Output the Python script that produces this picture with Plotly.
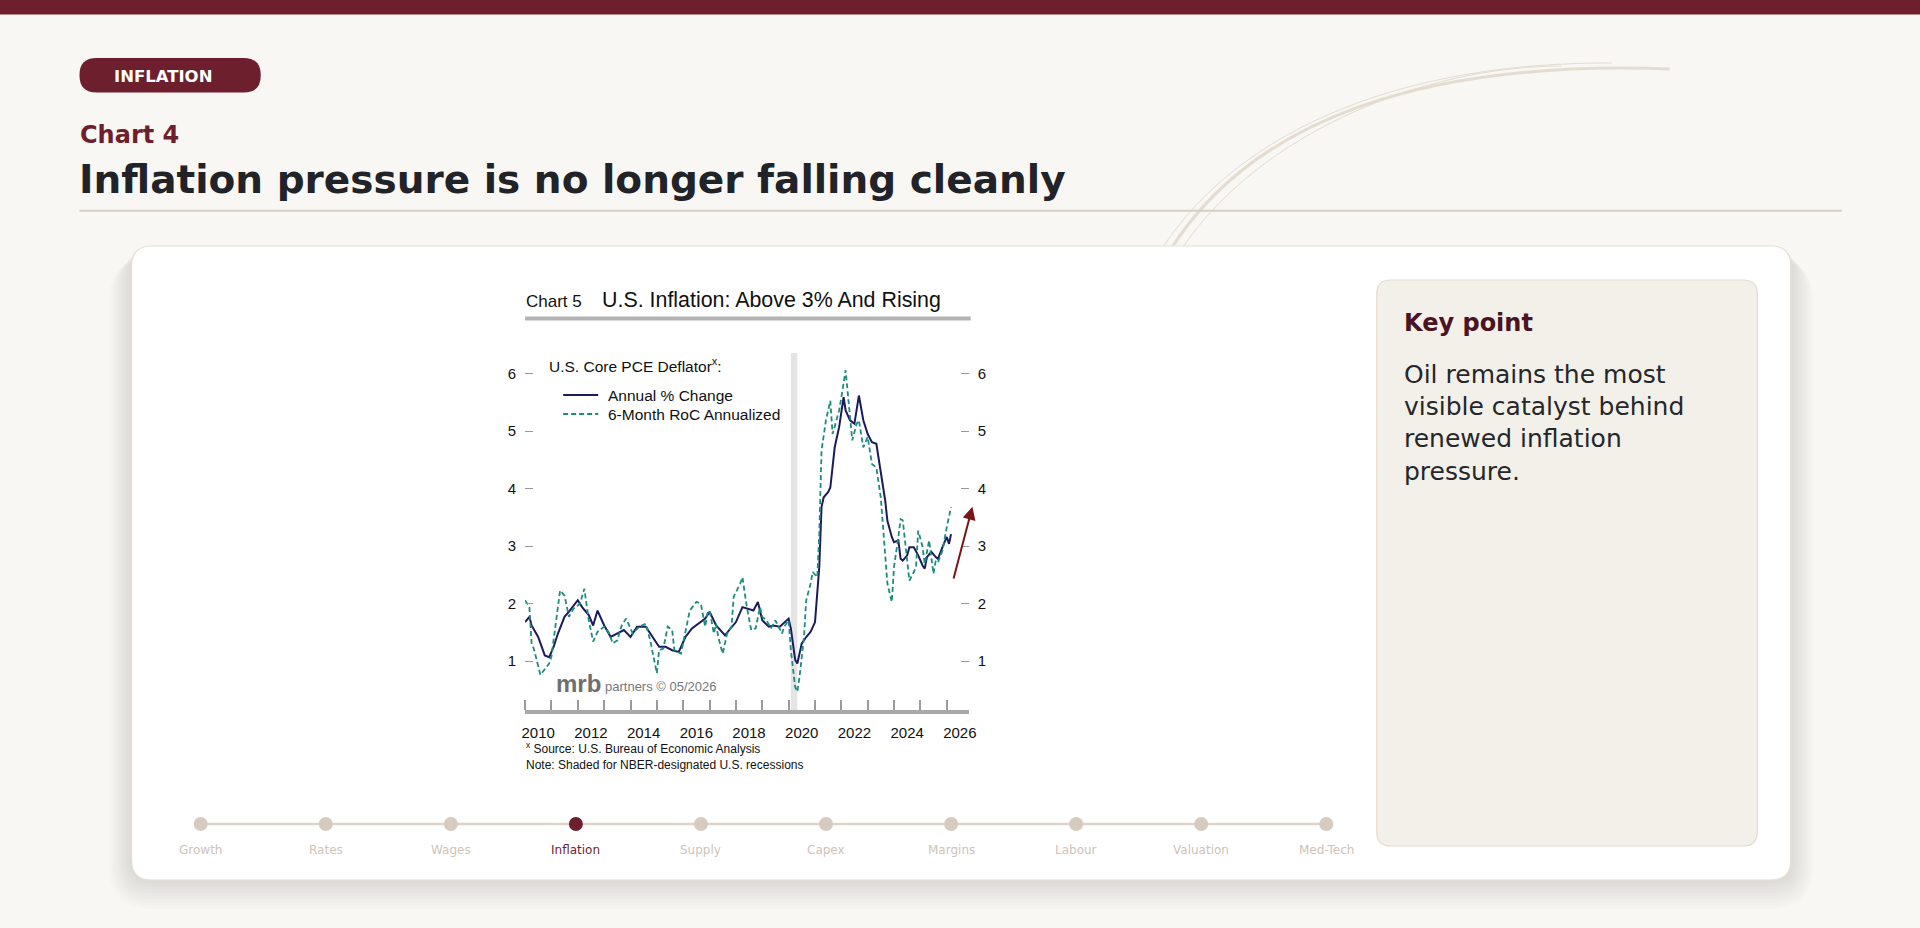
import plotly.graph_objects as go

W, H = 1920, 928
# measured horizontal placement of the page in the photographed window
X_OFF, X_SCALE = 4.6, 0.9924

# ---- data ----
annual_dates = [
    "2010-01", "2010-03", "2010-04", "2010-07", "2010-10", "2010-12", "2011-02", "2011-04",
    "2011-07", "2011-09", "2012-01", "2012-03", "2012-06", "2012-08", "2012-10", "2013-01",
    "2013-04", "2013-07", "2013-10", "2014-01", "2014-04", "2014-08", "2014-11", "2015-02",
    "2015-05", "2015-08", "2015-11", "2016-02", "2016-05", "2016-08", "2016-11", "2017-01",
    "2017-04", "2017-08", "2017-11", "2018-01", "2018-04", "2018-07", "2018-09", "2018-11",
    "2019-01", "2019-04", "2019-06", "2019-09", "2020-01", "2020-02", "2020-04", "2020-05",
    "2020-07", "2020-09", "2020-11", "2021-01", "2021-03", "2021-04", "2021-05", "2021-07",
    "2021-08", "2021-10", "2021-12", "2022-02", "2022-03", "2022-05", "2022-07", "2022-09",
    "2022-11", "2023-01", "2023-03", "2023-05", "2023-07", "2023-09", "2023-10", "2023-12",
    "2024-01", "2024-03", "2024-04", "2024-05", "2024-07", "2024-08", "2024-10", "2024-12",
    "2025-02", "2025-03", "2025-04", "2025-06", "2025-08", "2025-09", "2025-11", "2026-01",
    "2026-02", "2026-03",
]
annual_pct = [
    1.68, 1.77, 1.62, 1.42, 1.10, 1.07, 1.25, 1.48,
    1.77, 1.86, 2.06, 1.94, 1.80, 1.62, 1.88, 1.62,
    1.42, 1.48, 1.54, 1.42, 1.60, 1.60, 1.42, 1.25,
    1.25, 1.19, 1.16, 1.42, 1.57, 1.65, 1.74, 1.86,
    1.62, 1.45, 1.60, 1.68, 1.94, 1.91, 1.88, 2.03,
    1.71, 1.60, 1.62, 1.60, 1.74, 1.57, 1.02, 0.96,
    1.31, 1.42, 1.51, 1.68, 2.64, 3.68, 3.85, 3.94,
    4.02, 4.72, 5.07, 5.59, 5.36, 5.19, 5.13, 5.62,
    5.19, 4.95, 4.81, 4.78, 4.31, 3.79, 3.44, 3.16,
    3.07, 3.10, 2.78, 2.75, 2.84, 2.98, 2.98, 2.84,
    2.66, 2.61, 2.81, 2.90, 2.81, 2.78, 2.98, 3.16,
    3.04, 3.21,
]

roc_dates = [
    "2010-01", "2010-03", "2010-04", "2010-05", "2010-08", "2010-12", "2011-01", "2011-03",
    "2011-05", "2011-07", "2011-09", "2011-11", "2012-02", "2012-04", "2012-06", "2012-08",
    "2012-10", "2013-01", "2013-03", "2013-05", "2013-07", "2013-09", "2013-11", "2014-02",
    "2014-04", "2014-05", "2014-08", "2014-10", "2015-01", "2015-02", "2015-04", "2015-06",
    "2015-08", "2015-09", "2015-12", "2016-02", "2016-04", "2016-07", "2016-09", "2016-11",
    "2016-12", "2017-01", "2017-03", "2017-04", "2017-05", "2017-07", "2017-09", "2017-11",
    "2017-12", "2018-03", "2018-04", "2018-06", "2018-08", "2018-10", "2018-12", "2019-01",
    "2019-03", "2019-05", "2019-07", "2019-10", "2019-11", "2020-01", "2020-02", "2020-04",
    "2020-05", "2020-06", "2020-08", "2020-09", "2020-11", "2020-12", "2021-02", "2021-03",
    "2021-04", "2021-06", "2021-08", "2021-09", "2021-12", "2022-01", "2022-03", "2022-04",
    "2022-06", "2022-08", "2022-09", "2022-11", "2023-01", "2023-03", "2023-05", "2023-07",
    "2023-09", "2023-10", "2023-12", "2024-01", "2024-03", "2024-04", "2024-05", "2024-07",
    "2024-08", "2024-10", "2024-11", "2024-12", "2025-02", "2025-03", "2025-05", "2025-07",
    "2025-08", "2025-09", "2025-11", "2026-01", "2026-03",
]
roc_6m = [
    2.06, 1.94, 1.31, 1.22, 0.76, 0.96, 1.08, 1.65,
    2.23, 2.14, 1.77, 1.91, 2.00, 2.26, 1.71, 1.34,
    1.51, 1.60, 1.51, 1.31, 1.36, 1.62, 1.74, 1.48,
    1.57, 1.60, 1.65, 1.36, 0.79, 1.19, 1.22, 1.60,
    1.54, 1.19, 1.13, 1.51, 1.88, 2.03, 2.00, 1.60,
    1.83, 1.88, 1.48, 1.65, 1.42, 1.13, 1.48, 1.60,
    2.12, 2.35, 2.46, 1.94, 1.54, 1.57, 1.94, 1.77,
    1.71, 1.57, 1.71, 1.48, 1.60, 1.71, 1.19, 0.55,
    0.47, 0.73, 1.42, 2.06, 2.35, 2.55, 2.46, 3.21,
    4.66, 5.19, 5.53, 4.95, 5.36, 5.59, 6.06, 5.65,
    4.84, 5.13, 5.19, 4.72, 4.90, 4.43, 4.37, 3.85,
    2.92, 2.35, 2.03, 2.64, 3.16, 3.47, 3.45, 2.81,
    2.40, 2.55, 2.64, 3.27, 2.98, 2.69, 3.10, 2.52,
    2.75, 2.72, 2.92, 3.33, 3.68,
]

recession = ["2020-02-01", "2020-04-30"]
y_ticks = [1, 2, 3, 4, 5, 6]
year_ticks = ["2010", "2012", "2014", "2016", "2018", "2020", "2022", "2024", "2026"]
nav_labels = ["Growth", "Rates", "Wages", "Inflation", "Supply", "Capex",
              "Margins", "Labour", "Valuation", "Med-Tech"]
nav_active = "Inflation"

MAROON = "#6d1f2d"
NAVY = "#191b5e"
TEAL = "#1c8c7d"
PAGE_BG = "#f8f7f3"
PAGE_FONT = "DejaVu Sans"
CHART_FONT = "Liberation Sans"


def fx(px):
    return (px - X_OFF) / (X_SCALE * W)


def fy(py):
    return 1 - py / H


def rr(x0, y0, x1, y1, r):
    # rounded rectangle in pixel coords -> paper path
    def P(x, y):
        return f"{fx(x):.5f},{fy(y):.5f}"
    return (f"M{P(x0 + r, y0)} L{P(x1 - r, y0)} Q{P(x1, y0)} {P(x1, y0 + r)} "
            f"L{P(x1, y1 - r)} Q{P(x1, y1)} {P(x1 - r, y1)} L{P(x0 + r, y1)} "
            f"Q{P(x0, y1)} {P(x0, y1 - r)} L{P(x0, y0 + r)} Q{P(x0, y0)} {P(x0 + r, y0)} Z")


def curve(p0, c1, c2, p1):
    def P(p):
        return f"{fx(p[0]):.5f},{fy(p[1]):.5f}"
    return f"M{P(p0)} C{P(c1)} {P(c2)} {P(p1)}"


shapes = []
# top bar
shapes.append(dict(type="rect", xref="paper", yref="paper", x0=-0.01, x1=1.01, y0=fy(14.5), y1=1,
                   fillcolor=MAROON, line_width=0, layer="below"))
# decorative brush arc
for p0, c1, c2, p1, w in [
    ((1168, 252), (1250, 120), (1420, 60), (1668, 69), 3),
    ((1160, 250), (1242, 124), (1410, 62), (1610, 63), 1),
    ((1180, 250), (1258, 132), (1425, 66), (1560, 66), 1),
]:
    shapes.append(dict(type="path", xref="paper", yref="paper", path=curve(p0, c1, c2, p1),
                       line=dict(color="#e4dcd1", width=w), layer="below"))
# rule under title
shapes.append(dict(type="line", xref="paper", yref="paper", x0=fx(80), x1=fx(1840),
                   y0=fy(210.7), y1=fy(210.7), line=dict(color="#d8cfc3", width=2), layer="below"))
# pill
shapes.append(dict(type="path", xref="paper", yref="paper", path=rr(80, 58, 261, 92.5, 17),
                   fillcolor=MAROON, line_width=0, layer="below"))
# card shadow
for k in range(1, 10):
    shapes.append(dict(type="path", xref="paper", yref="paper",
                       path=rr(132 - 2.5 * k, 246 + 1.5 * k, 1789 + 2.5 * k, 880 + 3.2 * k, 20 + 2.5 * k),
                       fillcolor="rgba(60,52,44,0.015)", line_width=0, layer="below"))
# card
shapes.append(dict(type="path", xref="paper", yref="paper", path=rr(132, 246, 1789, 880, 20),
                   fillcolor="#ffffff", line=dict(color="#e6dfd4", width=1.2), layer="below"))
# key point panel
shapes.append(dict(type="path", xref="paper", yref="paper", path=rr(1375.5, 280, 1755.5, 846, 14),
                   fillcolor="#f3f0ea", line=dict(color="#e4dacd", width=1.2), layer="below"))
# inner chart title rule
shapes.append(dict(type="rect", xref="paper", yref="paper", x0=fx(525), x1=fx(970),
                   y0=fy(320.5), y1=fy(316.5), fillcolor="#b3b3b3", line_width=0, layer="below"))
# recession shading
shapes.append(dict(type="rect", xref="x", yref="y domain", x0=recession[0], x1=recession[1],
                   y0=0, y1=1, fillcolor="#e4e4e4", line_width=0, layer="below"))
# manual legend samples
shapes.append(dict(type="line", xref="paper", yref="paper", x0=fx(563), x1=fx(598),
                   y0=fy(395), y1=fy(395), line=dict(color=NAVY, width=1.8)))
shapes.append(dict(type="line", xref="paper", yref="paper", x0=fx(563), x1=fx(598),
                   y0=fy(414), y1=fy(414), line=dict(color=TEAL, width=1.8, dash="5px,3px")))
# nav line
nav_x = [201 + 124.9 * i for i in range(len(nav_labels))]
shapes.append(dict(type="line", xref="paper", yref="paper", x0=fx(nav_x[0]), x1=fx(nav_x[-1]),
                   y0=fy(824), y1=fy(824), line=dict(color="#ddd3c7", width=2.5), layer="below"))

fig = go.Figure()

fig.add_trace(go.Scatter(x=annual_dates, y=annual_pct, mode="lines", name="Annual % Change",
                         line=dict(color=NAVY, width=2), xaxis="x", yaxis="y",
                         showlegend=False, hoverinfo="skip"))
fig.add_trace(go.Scatter(x=roc_dates, y=roc_6m, mode="lines", name="6-Month RoC Annualized",
                         line=dict(color=TEAL, width=1.8, dash="5px,3px"), xaxis="x", yaxis="y2",
                         showlegend=False, hoverinfo="skip"))

# nav dots on a pixel-space overlay
fig.add_trace(go.Scatter(
    x=nav_x, y=[824] * len(nav_x), mode="markers", xaxis="x3", yaxis="y3",
    marker=dict(size=14, color=[MAROON if l == nav_active else "#d6cbbe" for l in nav_labels]),
    showlegend=False, hoverinfo="skip"))

ann = []


def txt(x, y, s, size, color, font=PAGE_FONT, bold=False, anchor="left"):
    ann.append(dict(x=x, y=y, xref="x3", yref="y3", text=f"<b>{s}</b>" if bold else s,
                    showarrow=False, xanchor=anchor, yanchor="middle",
                    font=dict(family=font, size=size, color=color)))


txt(112, 76.5, "INFLATION", 16.5, "#ffffff", bold=True)
txt(78, 135, "Chart 4", 24, MAROON, bold=True)
txt(77, 179, "Inflation pressure is no longer falling cleanly", 39, "#212328", bold=True)

txt(1401, 323, "Key point", 24, "#4a1420", bold=True)
body = ["Oil remains the most", "visible catalyst behind", "renewed inflation", "pressure."]
for i, line in enumerate(body):
    txt(1401, 374 + 32.4 * i, line, 25, "#25272b")

for lbl, x in zip(nav_labels, nav_x):
    txt(x, 850, lbl, 12, MAROON if lbl == nav_active else "#cfc3b6", anchor="center")

# embedded chart texts
txt(524, 301, "Chart 5", 17, "#111111", font=CHART_FONT)
txt(600, 300, "U.S. Inflation: Above 3% And Rising", 21.4, "#111111", font=CHART_FONT)
txt(547, 365, "U.S. Core PCE Deflator<sup>x</sup>:", 15.5, "#111111", font=CHART_FONT)
txt(606, 395, "Annual % Change", 15.5, "#111111", font=CHART_FONT)
txt(606, 414, "6-Month RoC Annualized", 15.5, "#111111", font=CHART_FONT)
txt(554, 683, "<b>mrb</b>", 24, "#6f6f6f", font=CHART_FONT)
txt(603, 686, "partners © 05/2026", 13, "#777777", font=CHART_FONT)
txt(524, 748, "<sup>x</sup> Source: U.S. Bureau of Economic Analysis", 12, "#111111", font=CHART_FONT)
txt(524, 765, "Note: Shaded for NBER-designated U.S. recessions", 12, "#111111", font=CHART_FONT)

# arrow
ann.append(dict(x=971.7, y=506.7, ax=952.5, ay=580, xref="x3", yref="y3", axref="x3", ayref="y3",
                showarrow=True, arrowhead=2, arrowsize=1.3, arrowwidth=2, arrowcolor="#7b1418", text=""))

y_range = [0.15, 6.36]
tick_font = dict(family=CHART_FONT, size=15, color="#111111")

fig.update_layout(
    width=W, height=H, autosize=False,
    margin=dict(l=0, r=0, t=0, b=0, pad=0),
    paper_bgcolor=PAGE_BG,
    plot_bgcolor="rgba(0,0,0,0)",
    shapes=shapes,
    annotations=ann,
    xaxis=dict(
        domain=[fx(525), fx(968)], range=["2010-01-01", "2026-11-01"], type="date",
        showgrid=False, zeroline=False, showline=True, linecolor="#a8a8a8", linewidth=4,
        tickmode="array", tickvals=[f"{y}-07-01" for y in year_ticks], ticktext=year_ticks,
        ticks="", tickfont=tick_font, ticklabelstandoff=6,
        minor=dict(tickmode="linear", tick0="2010-01-01", dtick="M12", ticks="inside",
                   ticklen=10, tickcolor="#9a9a9a", tickwidth=1.5, showgrid=False),
        anchor="y", fixedrange=True,
    ),
    yaxis=dict(
        domain=[fy(710), fy(353)], range=y_range, showgrid=False, zeroline=False,
        showline=False, tickvals=y_ticks, ticks="inside", ticklen=8, tickcolor="#9a9a9a",
        tickwidth=1, tickfont=tick_font, ticklabelstandoff=8, anchor="x", fixedrange=True,
    ),
    yaxis2=dict(
        overlaying="y", side="right", range=y_range, showgrid=False, zeroline=False,
        showline=False, tickvals=y_ticks, ticks="inside", ticklen=8, tickcolor="#9a9a9a",
        tickwidth=1, tickfont=tick_font, ticklabelstandoff=8, anchor="x", fixedrange=True,
    ),
    xaxis3=dict(domain=[0, 1], range=[X_OFF, X_OFF + X_SCALE * W], visible=False,
                anchor="y3", fixedrange=True),
    yaxis3=dict(domain=[0, 1], range=[H, 0], visible=False, anchor="x3", fixedrange=True),
    showlegend=False,
)

# drop the default body margin and scrollbars so the figure fills the window
post = (
    "document.body.style.margin='0px';"
    "document.body.style.overflow='hidden';"
    "document.body.style.background='%s';"
    "document.documentElement.style.overflow='hidden';" % PAGE_BG
)
fig.write_html("out.html", config={"displayModeBar": False, "responsive": False},
               post_script=post)
